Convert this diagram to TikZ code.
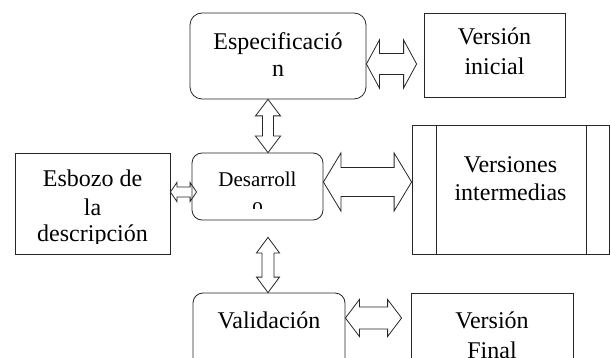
\documentclass[tikz,border=0pt]{standalone}
\usepackage{fontspec}
\setmainfont{Liberation Serif}
\usetikzlibrary{calc}
\tikzset{
  box/.style={draw=black!85, line width=0.8pt, inner sep=0pt},
  rbox/.style={box, rounded corners=#1},
  txt/.style={inner sep=0pt, anchor=base, font=\fontsize{24}{28}\selectfont},
  stxt/.style={inner sep=0pt, anchor=base, font=\fontsize{21}{25}\selectfont},
  barrow/.style={draw=black!85, line width=0.8pt, line join=miter},
  hdbl/.style n args={3}{to path={let \p1=(\tikztostart), \p2=(\tikztotarget) in
     (\x1,\y1) -- ({\x1+#3},{\y1+#2}) -- ({\x1+#3},{\y1+#1}) -- ({\x2-#3},{\y1+#1})
     -- ({\x2-#3},{\y1+#2}) -- (\x2,\y1) -- ({\x2-#3},{\y1-#2}) -- ({\x2-#3},{\y1-#1})
     -- ({\x1+#3},{\y1-#1}) -- ({\x1+#3},{\y1-#2}) -- cycle}},
  vdbl/.style n args={3}{to path={let \p1=(\tikztostart), \p2=(\tikztotarget) in
     (\x1,\y1) -- ({\x1+#2},{\y1-#3}) -- ({\x1+#1},{\y1-#3}) -- ({\x1+#1},{\y2+#3})
     -- ({\x1+#2},{\y2+#3}) -- (\x1,\y2) -- ({\x1-#2},{\y2+#3}) -- ({\x1-#1},{\y2+#3})
     -- ({\x1-#1},{\y1-#3}) -- ({\x1-#2},{\y1-#3}) -- cycle}},
}
\begin{document}
\begin{tikzpicture}[x=1pt,y=-1pt]
\clip (0,0) rectangle (610,358);
% boxes
\node[rbox=12pt, minimum width=176pt, minimum height=86pt] (esp) at (278,56) {};
\node[box, minimum width=141pt, minimum height=84pt] (vi) at (494.5,55) {};
\node[box, minimum width=155pt, minimum height=101pt] (esb) at (92.5,203.5) {};
\node[rbox=10pt, minimum width=131pt, minimum height=67pt] (des) at (257.5,186.5) {};
\node[box, minimum width=197pt, minimum height=129pt] (vint) at (510.5,189.5) {};
\draw[box] (436,125) -- (436,254) (586,125) -- (586,254);
\node[rbox=10pt, minimum width=152pt, minimum height=80pt] (val) at (269,333) {};
\node[box, minimum width=162pt, minimum height=80pt] (vf) at (492,333) {};
% texts
\node[txt] (esp1) at (278,50) {Especificació};
\node[txt] (esp2) at (278,77) {n};
\node[txt] (vi1) at (494.5,45) {Versión};
\node[txt] (vi2) at (494.5,75) {inicial};
\begin{scope}
\clip (15,153) rectangle (170,243);
\node[txt] (esb1) at (92.5,186) {Esbozo de};
\node[txt] (esb2) at (92.5,215) {la};
\node[txt] (esb3) at (92.5,241.7) {descripción};
\end{scope}
\begin{scope}
\clip (192,153) rectangle (323,208);
\node[stxt] (des1) at (257.5,186) {Desarroll};
\node[stxt] (des2) at (257.5,212.5) {o};
\end{scope}
\node[txt] (vint1) at (510.5,173) {Versiones};
\node[txt] (vint2) at (510.5,200.7) {intermedias};
\node[txt] (val1) at (269,328) {Validación};
\node[txt] (vf1) at (492,328) {Versión};
\node[txt] (vf2) at (492,358) {Final};
% block arrows
\draw[barrow] ([yshift=-8pt]esp.east) to[hdbl={10.5pt}{24pt}{13pt}] ([xshift=-7pt]vi.west);
\draw[barrow] ([xshift=-10pt]esp.south) to[vdbl={5.5pt}{12.5pt}{16.5pt}] ([xshift=10.5pt]des.north);
\draw[barrow] ([yshift=11.5pt]esb.east) to[hdbl={5pt}{9.5pt}{6.5pt}] ([xshift=5pt]des.west);
\draw[barrow] ([yshift=4.5pt]des.east) to[hdbl={14.5pt}{29pt}{17.5pt}] (vint.west);
\draw[barrow] ([xshift=10.5pt,yshift=-17pt]des.south) to[vdbl={6pt}{11.5pt}{15.5pt}] ([xshift=-1pt]val.north);
\draw[barrow] ([yshift=15pt]val.east) to[hdbl={11pt}{18.5pt}{14pt}] ([xshift=-9pt]vf.west);
\end{tikzpicture}
\end{document}
